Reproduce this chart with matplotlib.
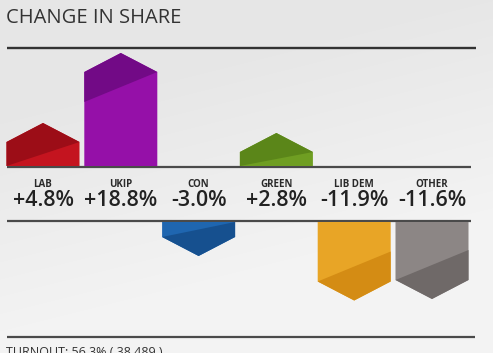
"""Change in share infographic (pentagon bars above / below a label band)."""
import matplotlib
matplotlib.use('Agg')
import matplotlib.pyplot as plt
from matplotlib.patches import Polygon
import numpy as np

parties = ["LAB", "UKIP", "CON", "GREEN", "LIB DEM", "OTHER"]
change = [4.8, 18.8, -3.0, 2.8, -11.9, -11.6]
turnout = "TURNOUT: 56.3% ( 38,489 )"

COLORS = ["#c4141f", "#9510a8", "#1f66b0", "#6f9e22", "#e8a526", "#8c8685"]
SHADES = ["#9c0d17", "#720a86", "#16508f", "#5b8619", "#d48c14", "#6f6968"]

plt.rcParams['font.family'] = ['Open Sans', 'DejaVu Sans']

W, H = 493, 353
fig = plt.figure(figsize=(W / 100, H / 100), dpi=100)
fig.patch.set_facecolor('#e9e9e9')
ax = fig.add_axes([0, 0, 1, 1])
ax.set_xlim(0, W)
ax.set_ylim(H, 0)
ax.axis('off')

# subtle background gradient: grey on top, lighter towards the bottom
yy, xx = np.mgrid[0:H, 0:W]
shade = 0.905 + 0.05 * np.clip((yy - 120 + 0.25 * xx) / 220, 0, 1)
ax.imshow(np.dstack([shade] * 3), extent=(0, W, H, 0), aspect='auto', zorder=0)

# layout (pixels)
x_first, step, half_w = 43, 77.8, 36.5
pos_base, neg_base = 166, 222
px_per_pct = 5.0
tip = 19
diag = 30

ax.text(6, 18, "CHANGE IN SHARE", fontsize=14.5, color='#333333', ha='left', va='center')
ax.plot([7, 476], [48, 48], color='#333333', lw=1.7, solid_capstyle='butt')
for y in (167, 221):
    ax.plot([7, 471], [y, y], color='#4a4a4a', lw=1.6, solid_capstyle='butt')
ax.plot([7, 475], [337, 337], color='#4a4a4a', lw=1.6, solid_capstyle='butt')

for i, (name, val) in enumerate(zip(parties, change)):
    xc = x_first + i * step
    x0, x1 = xc - half_w, xc + half_w
    h = abs(val) * px_per_pct
    d = min(diag, h)
    if val >= 0:
        base = pos_base
        end = base - h
        apex = end - tip
        body = [(x0, base), (x0, end), (xc, apex), (x1, end), (x1, base)]
        dark = [(x0, end + d), (x0, end), (xc, apex), (x1, end)]
    else:
        base = neg_base
        end = base + h
        apex = end + tip
        body = [(x0, base), (x0, end), (xc, apex), (x1, end), (x1, base)]
        dark = [(x1, end - d), (x1, end), (xc, apex), (x0, end)]
    ax.add_patch(Polygon(body, closed=True, facecolor=COLORS[i], edgecolor='none', zorder=2))
    ax.add_patch(Polygon(dark, closed=True, facecolor=SHADES[i], edgecolor='none', zorder=3))

    ax.text(xc, 184.5, name, fontsize=7, fontweight='bold', color='#2a2a2a',
            ha='center', va='center')
    ax.text(xc, 200.5, f"{val:+.1f}%", fontsize=15.5, fontweight='semibold',
            color='#222222', ha='center', va='center')

ax.text(6, 353, turnout, fontsize=9, color='#333333', ha='left', va='center')

fig.savefig("out.png", dpi=100)
plt.close()
